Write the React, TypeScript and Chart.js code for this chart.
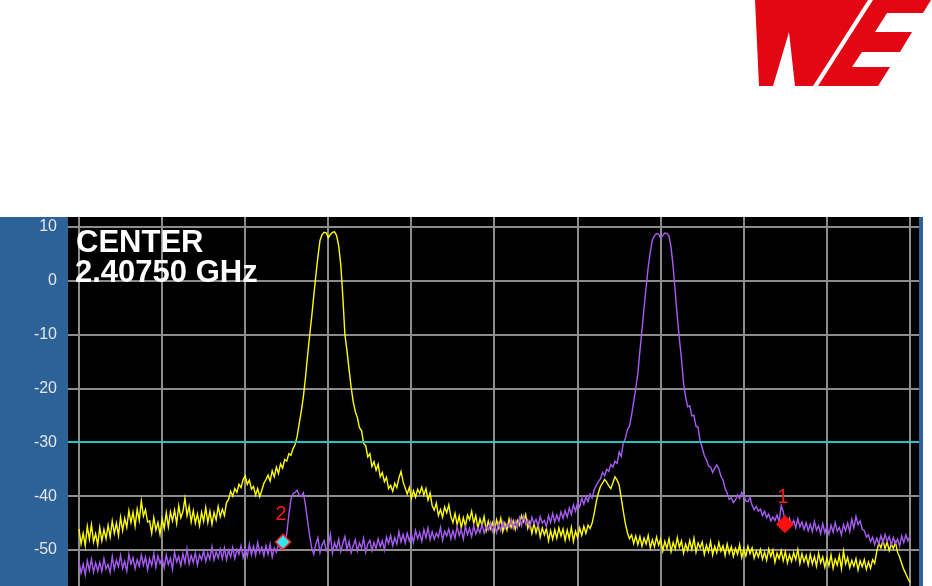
import React, { useEffect, useRef } from "react";
import { Chart, registerables } from "chart.js";

Chart.register(...registerables);

// ---- Text / axis data ----
const centerTitle = "CENTER";
const centerFreqText = "2.40750 GHz";
const yTickValues = [10, 0, -10, -20, -30, -40, -50, -60];
const xGridMHz = [-10, -8, -6, -4, -2, 0, 2, 4, 6, 8, 10]; // offset from center, 2 MHz/div
const xMinMHz = -10.265;
const xMaxMHz = 10.217;
const yMaxDb = 11.858;
const yMinDb = -62.445;
const refLevelDb = -30;
const traceStartMHz = -10;
const traceStepMHz = 0.05;

// ---- Trace values (dBm), sampled every 0.05 MHz from -10 to +10 MHz ----
const yellowTrace = [
  -46.1, -48.9, -46.9, -49.2, -45.6, -48.0, -45.3, -48.5, -47.0, -49.1,
  -45.8, -48.3, -46.2, -47.9, -45.4, -47.6, -44.6, -46.9, -45.0, -47.3,
  -43.9, -46.4, -44.1, -45.8, -42.7, -44.9, -43.0, -45.6, -42.4, -44.5,
  -40.9, -43.7, -42.5, -44.8, -44.6, -46.9, -44.0, -46.3, -44.9, -47.1,
  -44.2, -46.0, -43.1, -45.7, -42.9, -44.6, -42.6, -45.1, -41.8, -44.0,
  -42.9, -40.4, -43.6, -41.9, -44.8, -42.7, -45.0, -43.3, -45.5, -43.0,
  -44.7, -42.1, -44.9, -42.8, -45.2, -43.0, -44.4, -41.9, -43.8, -42.4,
  -43.6, -41.2, -40.6, -39.1, -40.0, -38.6, -39.3, -37.8, -38.4, -36.9,
  -36.2, -37.8, -37.0, -38.7, -38.2, -39.8, -38.6, -40.1, -38.9, -37.6,
  -36.9, -36.1, -37.2, -35.3, -36.4, -34.6, -35.8, -34.0, -34.8, -33.2,
  -33.5, -32.1, -32.4, -31.2, -30.4, -28.9, -26.5, -24.2, -21.5, -18.0,
  -14.0, -10.2, -6.7, -2.8, 1.0, 4.5, 7.5, 8.6, 9.0, 8.9,
  8.0, 8.6, 9.0, 9.1, 8.4, 6.5, 3.0, -3.0, -10.0, -13.0,
  -16.5, -19.8, -22.5, -24.3, -25.4, -27.3, -27.8, -30.2, -30.6, -32.7,
  -32.1, -34.5, -33.6, -35.2, -34.1, -36.4, -35.6, -37.3, -36.5, -38.6,
  -38.0, -39.1, -37.6, -38.4, -36.6, -35.4, -37.3, -38.5, -39.6, -38.4,
  -40.4, -39.0, -40.2, -38.7, -39.5, -38.3, -39.8, -38.6, -40.7, -39.4,
  -41.8, -42.6, -41.3, -43.6, -42.5, -43.9, -42.0, -43.1, -41.6, -43.8,
  -44.9, -43.2, -45.3, -43.7, -45.9, -44.0, -45.6, -43.5, -44.4, -42.8,
  -45.1, -43.6, -46.0, -44.2, -45.5, -43.8, -46.4, -44.6, -46.1, -44.9,
  -46.5, -44.4, -45.9, -44.1, -46.6, -45.0, -46.3, -44.2, -45.8, -44.6,
  -46.2, -44.5, -45.4, -43.6, -44.7, -43.4, -46.0, -44.8, -46.9, -45.1,
  -46.8, -45.3, -47.6, -45.9, -47.2, -46.0, -48.3, -46.4, -48.0, -46.2,
  -47.8, -45.9, -47.4, -46.1, -48.2, -46.3, -47.9, -45.8, -48.4, -46.5,
  -47.7, -45.9, -47.3, -45.6, -46.9, -45.4, -46.0, -45.0, -43.2, -41.0,
  -39.4, -38.2, -37.6, -36.9, -37.4, -38.1, -38.6, -37.5, -36.4, -37.0,
  -37.9, -40.3, -42.8, -45.1, -46.8, -47.9, -47.2, -48.8, -47.4, -49.0,
  -47.5, -49.3, -47.8, -48.9, -47.3, -49.6, -48.1, -49.4, -47.6, -49.1,
  -48.0, -50.2, -48.4, -49.7, -47.9, -50.3, -48.6, -49.8, -47.7, -49.5,
  -48.3, -50.6, -48.9, -50.1, -48.2, -49.9, -47.8, -50.4, -48.7, -49.6,
  -48.5, -50.8, -49.1, -50.3, -48.4, -50.9, -49.3, -50.5, -48.6, -50.2,
  -49.2, -51.0, -48.9, -50.6, -49.4, -51.2, -49.7, -50.8, -49.0, -51.4,
  -49.8, -51.1, -49.3, -50.7, -49.6, -51.5, -50.2, -51.3, -49.9, -51.7,
  -50.4, -51.9, -49.8, -51.2, -50.0, -52.3, -50.6, -51.6, -50.1, -52.0,
  -50.3, -52.4, -50.9, -52.1, -50.5, -51.8, -49.9, -52.5, -50.7, -52.2,
  -51.0, -52.8, -50.8, -52.6, -51.2, -53.0, -50.6, -52.4, -51.3, -53.2,
  -51.5, -52.9, -50.9, -53.4, -51.7, -52.8, -51.0, -53.5, -50.2, -52.6,
  -51.4, -53.3, -51.9, -53.0, -51.6, -53.7, -52.0, -53.1, -51.8, -53.6,
  -52.2, -53.4, -51.8, -52.5, -50.3, -48.7, -49.6, -48.2, -49.8, -48.5,
  -50.1, -48.9, -49.7, -48.6, -50.4, -51.3, -52.5, -53.6, -54.4, -55.3,
  -56.0,
];

const purpleTrace = [
  -52.1, -54.3, -52.6, -54.6, -52.0, -53.8, -51.7, -54.1, -52.4, -53.9,
  -52.3, -54.0, -51.6, -53.5, -52.7, -54.2, -51.2, -53.6, -51.9, -53.1,
  -51.0, -53.4, -52.1, -53.9, -50.8, -52.6, -51.4, -53.5, -51.8, -53.0,
  -50.9, -52.8, -51.3, -53.7, -51.6, -52.9, -50.6, -53.2, -51.1, -52.5,
  -51.4, -53.3, -50.9, -52.7, -51.5, -53.6, -50.4, -52.2, -51.2, -52.9,
  -50.7, -52.4, -49.8, -52.6, -51.0, -52.3, -50.5, -52.8, -50.9, -51.8,
  -50.2, -52.1, -50.6, -51.7, -49.4, -51.9, -50.3, -51.5, -49.8, -51.6,
  -49.6, -51.8, -50.0, -51.3, -49.5, -51.6, -49.9, -50.8, -49.2, -51.4,
  -49.7, -51.2, -48.9, -50.9, -49.3, -51.0, -48.6, -50.5, -49.5, -51.1,
  -49.2, -50.8, -48.9, -51.3, -49.6, -50.4, -49.0, -49.7, -48.8, -48.5,
  -47.0, -43.5, -40.6, -39.5, -39.3, -38.9, -39.8, -40.1, -39.4, -41.6,
  -44.5, -47.3, -49.6, -50.8, -48.9, -47.7, -50.5, -49.0, -48.3, -50.1,
  -49.4, -47.1, -50.6, -48.6, -49.8, -48.0, -50.3, -48.8, -47.5, -49.9,
  -48.4, -50.5, -49.2, -48.1, -50.2, -48.7, -49.6, -47.8, -50.4, -48.9,
  -48.2, -50.1, -48.6, -49.7, -47.9, -49.4, -48.3, -50.0, -47.6, -48.8,
  -47.3, -49.2, -47.7, -48.9, -46.6, -48.5, -47.1, -48.7, -46.9, -48.3,
  -47.0, -48.6, -46.4, -47.9, -46.8, -48.4, -46.2, -47.7, -45.9, -48.1,
  -46.6, -48.0, -46.9, -47.6, -45.8, -48.2, -46.5, -47.4, -46.1, -47.9,
  -46.4, -47.8, -45.7, -47.3, -46.2, -48.0, -45.6, -47.1, -46.0, -47.5,
  -45.5, -47.0, -45.9, -46.8, -45.2, -46.9, -45.6, -46.3, -44.9, -46.6,
  -45.3, -46.8, -45.0, -46.4, -44.7, -46.1, -45.2, -45.8, -44.3, -46.0,
  -44.6, -45.9, -44.0, -45.5, -43.7, -45.2, -44.4, -45.8, -43.9, -45.1,
  -44.3, -45.6, -43.8, -45.0, -44.5, -45.7, -43.6, -44.9, -43.2, -44.8,
  -43.5, -44.6, -42.9, -44.1, -42.7, -43.9, -42.2, -43.4, -41.6, -42.8,
  -41.2, -42.0, -40.4, -41.5, -40.1, -41.0, -39.6, -40.3, -38.8, -38.0,
  -37.3, -36.8, -35.6, -36.2, -35.0, -35.4, -34.1, -34.6, -33.5, -33.9,
  -31.8, -32.6, -30.1, -29.3, -27.6, -27.0, -24.9, -22.4, -20.0, -17.2,
  -13.0, -9.1, -5.0, -1.2, 2.6, 5.4, 7.6, 8.4, 8.8, 8.7,
  7.9, 8.4, 8.9, 8.8, 8.3, 6.2, 2.6, -2.1, -6.7, -10.8,
  -14.5, -19.0, -21.6, -23.4, -23.2, -25.1, -25.0, -27.0, -27.2, -29.8,
  -31.0, -32.5, -33.2, -34.4, -34.6, -35.6, -34.8, -34.2, -34.9, -36.3,
  -37.0, -38.6, -39.4, -40.6, -40.3, -41.2, -40.7, -39.8, -40.4, -39.3,
  -39.9, -40.9, -41.0, -40.2, -41.7, -42.5, -41.9, -42.8, -42.4, -43.6,
  -42.8, -44.0, -43.3, -44.6, -43.9, -44.5, -43.5, -44.8, -41.8, -42.9,
  -44.9, -45.6, -44.1, -45.3, -44.5, -45.9, -44.2, -45.7, -44.8, -46.2,
  -44.9, -46.4, -45.2, -46.6, -44.7, -46.3, -45.5, -47.0, -45.1, -46.8,
  -45.6, -47.1, -45.4, -46.7, -44.9, -46.5, -45.8, -47.2, -45.3, -46.4,
  -45.0, -46.6, -44.3, -45.9, -43.8, -45.3, -44.6, -46.1, -46.4, -47.6,
  -47.2, -48.5, -47.6, -49.0, -47.8, -48.9, -47.3, -48.7, -47.1, -48.4,
  -47.5, -49.1, -47.7, -48.8, -48.0, -49.3, -47.4, -48.6, -47.2, -48.3,
  -47.4,
];

// ---- Markers ----
const markerLabels = ["1", "2"];
const markerMHz = [6.99, -5.09];
const markerDb = [-45.2, -48.5];
const markerFill = ["#ff1010", "#30e8f0"];
const markerBorder = ["#ff1010", "#ff2020"];

const COLORS = {
  panel: "#2c6298",
  plot: "#000000",
  grid: "#8c8c8c",
  ref: "#1ec6c8",
  yellow: "#ffff00",
  purple: "#a65cf4",
  markerText: "#ff1a1a",
  tick: "#e4e4e4",
  logo: "#e30613",
};

const FONT = "'Liberation Sans', Arial, Helvetica, sans-serif";

export default function App() {
  const canvasRef = useRef<HTMLCanvasElement | null>(null);

  useEffect(() => {
    const canvas = canvasRef.current;
    if (!canvas) return;

    const toPoints = (arr: number[]) =>
      arr.map((v, i) => ({ x: traceStartMHz + i * traceStepMHz, y: v }));

    const backgroundPlugin = {
      id: "bgPanels",
      beforeDraw(chart: any) {
        const { ctx, chartArea, width, height } = chart;
        ctx.save();
        ctx.fillStyle = COLORS.panel;
        ctx.fillRect(0, 0, width, height);
        ctx.fillStyle = COLORS.plot;
        ctx.fillRect(
          chartArea.left,
          chartArea.top,
          chartArea.right - chartArea.left,
          chartArea.bottom - chartArea.top
        );
        ctx.restore();
      },
    };

    const refLinePlugin = {
      id: "refLine",
      afterDatasetsDraw(chart: any) {
        const { ctx, chartArea, scales } = chart;
        const y = Math.round(scales.y.getPixelForValue(refLevelDb));
        ctx.save();
        ctx.strokeStyle = COLORS.ref;
        ctx.lineWidth = 2;
        ctx.beginPath();
        ctx.moveTo(chartArea.left, y);
        ctx.lineTo(chartArea.right, y);
        ctx.stroke();
        ctx.restore();
      },
    };

    const markerLabelPlugin = {
      id: "markerLabels",
      afterDraw(chart: any) {
        const { ctx, scales } = chart;
        ctx.save();
        ctx.fillStyle = COLORS.markerText;
        ctx.font = `20px ${FONT}`;
        ctx.textAlign = "center";
        ctx.textBaseline = "middle";
        markerLabels.forEach((lbl, i) => {
          const px = scales.x.getPixelForValue(markerMHz[i]);
          const py = scales.y.getPixelForValue(markerDb[i]);
          ctx.fillText(lbl, px - 2, py - 27);
        });
        ctx.restore();
      },
    };

    const chart = new Chart(canvas, {
      type: "line",
      data: {
        datasets: [
          {
            label: "Markers",
            data: markerLabels.map((_, i) => ({ x: markerMHz[i], y: markerDb[i] })),
            showLine: false,
            pointStyle: "rectRot",
            pointRadius: [8, 7.5],
            pointBackgroundColor: markerFill,
            pointBorderColor: markerBorder,
            pointBorderWidth: 1.5,
            order: 0,
          } as any,
          {
            label: "Trace 2",
            data: toPoints(purpleTrace),
            borderColor: COLORS.purple,
            borderWidth: 1.4,
            pointRadius: 0,
            tension: 0,
            order: 1,
          },
          {
            label: "Trace 1",
            data: toPoints(yellowTrace),
            borderColor: COLORS.yellow,
            borderWidth: 1.4,
            pointRadius: 0,
            tension: 0,
            order: 2,
          },
        ],
      },
      options: {
        animation: false,
        responsive: false,
        maintainAspectRatio: false,
        devicePixelRatio: 1,
        layout: { autoPadding: false, padding: { left: 0, right: 4, top: 0, bottom: 0 } },
        plugins: {
          legend: { display: false },
          tooltip: { enabled: false },
          title: { display: false },
        },
        scales: {
          x: {
            type: "linear",
            min: xMinMHz,
            max: xMaxMHz,
            border: { display: false },
            grid: { color: COLORS.grid, lineWidth: 2, drawTicks: false },
            ticks: { display: false },
            afterBuildTicks(scale: any) {
              scale.ticks = xGridMHz.map((v) => ({ value: v }));
            },
            afterFit(scale: any) {
              scale.height = 0;
              scale.paddingLeft = 0;
              scale.paddingRight = 0;
            },
          },
          y: {
            type: "linear",
            min: yMinDb,
            max: yMaxDb,
            border: { display: false },
            grid: { color: COLORS.grid, lineWidth: 2, drawTicks: false },
            ticks: {
              color: COLORS.tick,
              padding: 11,
              autoSkip: false,
              font: { family: FONT, size: 16 },
            },
            afterBuildTicks(scale: any) {
              scale.ticks = yTickValues.map((v) => ({ value: v }));
            },
            afterFit(scale: any) {
              scale.width = 68;
              scale.paddingTop = 0;
              scale.paddingBottom = 0;
            },
          },
        },
      },
      plugins: [backgroundPlugin, refLinePlugin, markerLabelPlugin],
    } as any);

    return () => chart.destroy();
  }, []);

  return (
    <div
      style={{
        position: "absolute",
        left: 0,
        top: 0,
        width: 932,
        height: 586,
        overflow: "hidden",
        background: "#ffffff",
      }}
    >
      <svg
        width={932}
        height={217}
        style={{ position: "absolute", left: 0, top: 0 }}
      >
        <polygon
          fill={COLORS.logo}
          points="755,0 868,0 813,86 795,86 789,32 773,86 759,86"
        />
        <polygon
          fill={COLORS.logo}
          points="873,0 931,0 923,13 887,13 875,32 912,32 900,52 862,52 852,67 890,67 878,86 818,86"
        />
      </svg>
      <canvas
        ref={canvasRef}
        width={923}
        height={400}
        style={{ position: "absolute", left: 0, top: 217, width: 923, height: 400 }}
      />
      <div
        style={{
          position: "absolute",
          left: 76,
          top: 227,
          color: "#ffffff",
          font: `bold 31px ${FONT}`,
          lineHeight: "30px",
          whiteSpace: "pre",
        }}
      >
        <div>{centerTitle}</div>
        <div style={{ marginLeft: -1 }}>{centerFreqText}</div>
      </div>
    </div>
  );
}
